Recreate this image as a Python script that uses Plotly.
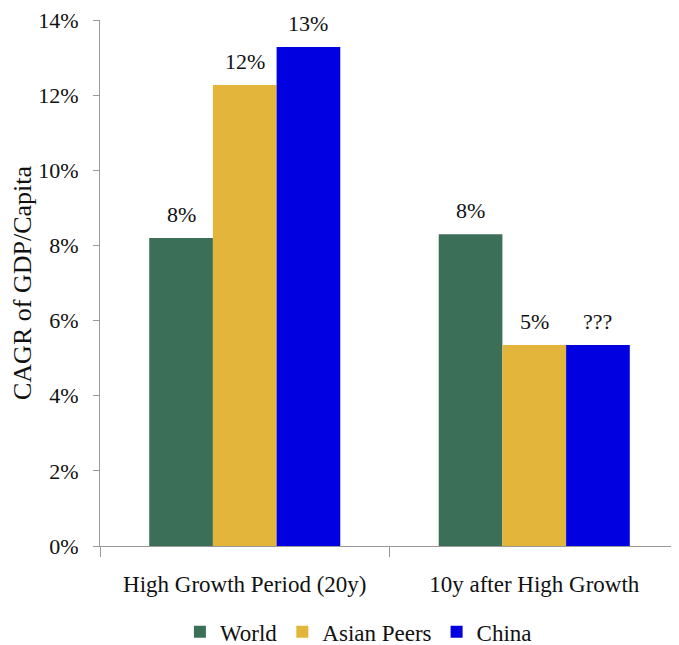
import plotly.graph_objects as go

categories = ['High Growth Period (20y)', '10y after High Growth']
world = [8.2, 8.3]
asian_peers = [12.27, 5.35]
china = [13.28, 5.35]
world_labels = ['8%', '8%']
asian_labels = ['12%', '5%']
china_labels = ['13%', '???']

FONT = 'Liberation Serif, Times New Roman, serif'
BAR_PX = 579 * 0.5 * 0.66 / 3  # one bar width in px, for placing value labels

series = [
    ('World', world, world_labels, '#3B6F58'),
    ('Asian Peers', asian_peers, asian_labels, '#E3B53B'),
    ('China', china, china_labels, '#0000E0'),
]

fig = go.Figure()
annotations = []
for j, (name, vals, labels, color) in enumerate(series):
    fig.add_trace(go.Bar(
        x=categories, y=vals, name=name,
        marker=dict(color=color, line=dict(width=0)),
    ))
    for cat, v, lab in zip(categories, vals, labels):
        annotations.append(dict(
            x=cat, y=v, xref='x', yref='y', text=lab, showarrow=False,
            xanchor='center', yanchor='bottom', xshift=(j - 1) * BAR_PX, yshift=9,
            font=dict(family=FONT, size=22, color='#111'),
        ))

# the page body keeps an 8px margin, so the figure is 8px smaller than the window
fig.update_layout(
    width=671, height=637,
    margin=dict(l=92, r=0, t=12, b=99, autoexpand=False),
    barmode='group', bargap=0.34, bargroupgap=0,
    plot_bgcolor='white', paper_bgcolor='white',
    font=dict(family=FONT, size=22, color='#111'),
    showlegend=True,
    annotations=annotations,
    legend=dict(orientation='h', x=0.138, xanchor='left', y=-0.163, yanchor='middle',
                font=dict(family=FONT, size=23), itemwidth=30, tracegroupgap=0),
)
fig.update_xaxes(
    showline=True, linecolor='#999', linewidth=1, automargin=False,
    ticks='outside', ticklen=10, tickcolor='#999', tickson='boundaries',
    ticklabelstandoff=17, showgrid=False, tickfont=dict(size=23),
)
fig.update_yaxes(
    range=[0, 14], dtick=2, ticksuffix='%', automargin=False,
    showline=True, linecolor='#999', linewidth=1,
    ticks='outside', ticklen=6, tickcolor='#999', ticklabeloverflow='allow',
    ticklabelstandoff=10, showgrid=False, zeroline=False,
    title=dict(text='CAGR of GDP/Capita', font=dict(family=FONT, size=26), standoff=2),
)

fig.write_html('out.html')
